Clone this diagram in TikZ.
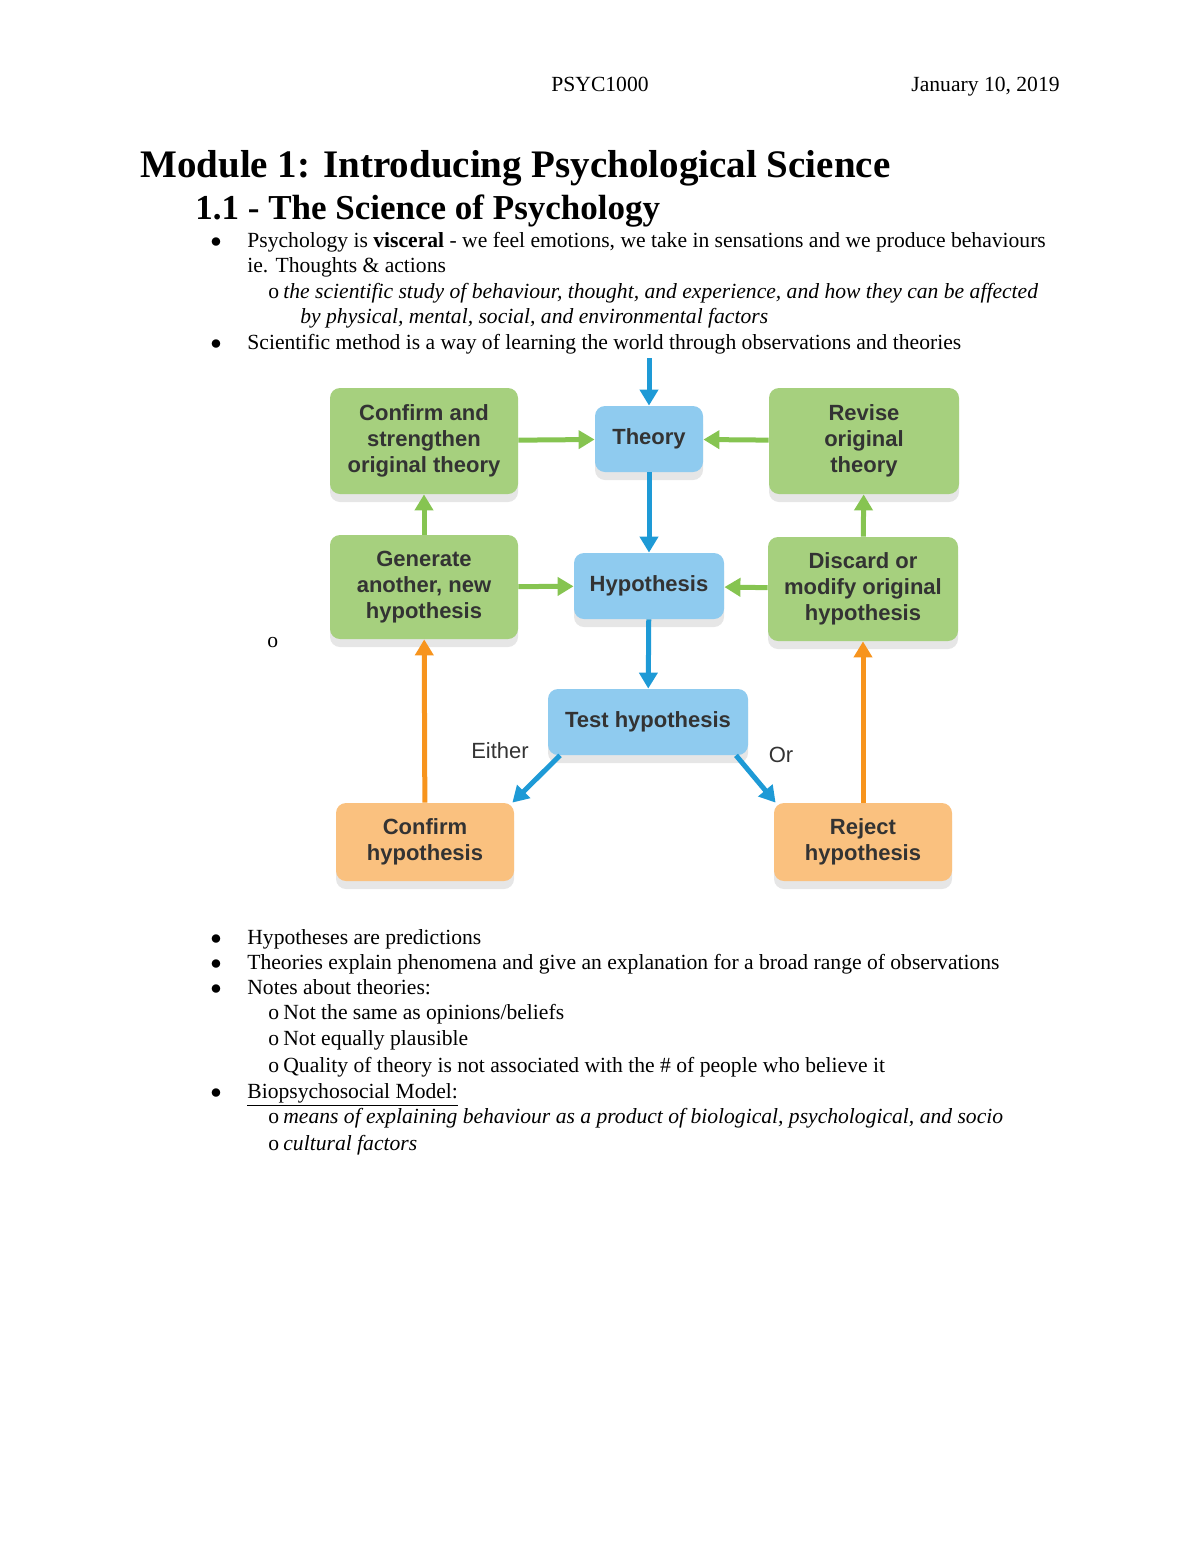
\documentclass[tikz,border=0pt]{standalone}
\usepackage{fontspec}
\setmainfont{Liberation Serif}
\newfontfamily\diafont{Liberation Sans}
\usetikzlibrary{positioning,shadows,arrows.meta}
\definecolor{boxgreen}{HTML}{A6D07E}
\definecolor{boxblue}{HTML}{8FCBEF}
\definecolor{boxorange}{HTML}{FAC17F}
\definecolor{arrgreen}{HTML}{86C451}
\definecolor{arrblue}{HTML}{1E9AD6}
\definecolor{arrorange}{HTML}{F7941D}
\definecolor{inkgray}{HTML}{333333}
\tikzset{
  % diagram boxes
  box/.style = {
    rounded corners = 5pt,
    align = center,
    font = \diafont\bfseries\fontsize{11}{13}\selectfont,
    text = inkgray,
    inner sep = 2pt,
    drop shadow = {shadow xshift = 0pt, shadow yshift = -4pt, opacity = .2}
  },
  gbox/.style = {box, fill = boxgreen},
  bbox/.style = {box, fill = boxblue},
  obox/.style = {box, fill = boxorange},
  garr/.style = {draw = arrgreen, line width = 2.5pt, -{Triangle[length=8pt,width=9pt]}},
  barr/.style = {draw = arrblue, line width = 2.5pt, -{Triangle[length=8pt,width=9pt]}},
  oarr/.style = {draw = arrorange, line width = 2.5pt, -{Triangle[length=8pt,width=9pt]}},
  % page text
  body/.style = {anchor = base west, inner sep = 0, font = \fontsize{10.8}{13}\selectfont},
  bul/.style = {anchor = base, inner sep = 0, font = \fontsize{10.8}{13}\selectfont}
}
\begin{document}
\begin{tikzpicture}[x=0.5pt, y=-0.5pt]
  \useasboundingbox (0,0) rectangle (1200,1553);

  % header and titles
  \node[bul] (course) at (600,91) {PSYC1000};
  \node[bul, anchor = base east] (date) at (1060,91) {January 10, 2019};
  \node[body, font = \bfseries\fontsize{19.5}{21}\selectfont] (title) at (140,177) {Module 1: Introducing Psychological Science};
  \node[body, font = \bfseries\fontsize{17.5}{19}\selectfont] (section) at (195,219) {1.1 - The Science of Psychology};

  % upper notes
  \foreach \y in {247,349} \node[bul] at (216,\y) {$\bullet$};
  \foreach \y in {298} \node[body] at (268,\y) {o};
  \node[body] (l1) at (247,247) {Psychology is \textbf{visceral} - we feel emotions, we take in sensations and we produce behaviours};
  \node[body] (l2) at (247,272) {ie. Thoughts \& actions};
  \node[body] (l3) at (283,298) {\itshape the scientific study of behaviour, thought, and experience, and how they can be affected};
  \node[body] (l4) at (300,323) {\itshape by physical, mental, social, and environmental factors};
  \node[body] (l5) at (247,349) {Scientific method is a way of learning the world through observations and theories};
  \node[body] (stray) at (267,647) {o};

  % diagram
  \node[bbox, minimum width = 54pt, minimum height = 33pt] (theory) at (649,439) {Theory};
  \node[gbox, minimum width = 94pt, minimum height = 53pt] (confirm-theory) at (424,441) {Confirm and\\strengthen\\original theory};
  \node[gbox, minimum width = 95pt, minimum height = 53pt] (revise) at (864,441) {Revise\\original\\theory};
  \node[bbox, minimum width = 75pt, minimum height = 33pt] (hypothesis) at (649,586) {Hypothesis};
  \node[gbox, minimum width = 94pt, minimum height = 52pt] (generate) at (424,587) {Generate\\another, new\\hypothesis};
  \node[gbox, minimum width = 95pt, minimum height = 52pt] (discard) at (863,589) {Discard or\\modify original\\hypothesis};
  \node[bbox, minimum width = 100pt, minimum height = 33pt] (test) at (648,722) {Test hypothesis};
  \node[obox, minimum width = 89pt, minimum height = 39pt] (confirm-hyp) at (425,842) {Confirm\\hypothesis};
  \node[obox, minimum width = 89pt, minimum height = 39pt] (reject) at (863,842) {Reject\\hypothesis};
  \coordinate (entry) at (649,358);
  \node[font = \diafont\fontsize{11}{13}\selectfont, text = inkgray] (either) at (500,751) {Either};
  \node[font = \diafont\fontsize{11}{13}\selectfont, text = inkgray] (or) at (781,755) {Or};

  \draw[barr] (entry) -- (theory);
  \draw[barr] (theory) -- (hypothesis);
  \draw[barr] (hypothesis) -- (test);
  \draw[barr] ([xshift=-44pt]test.south) -- ([xshift=-1pt]confirm-hyp.north east);
  \draw[barr] ([xshift=44pt]test.south) -- ([xshift=1pt]reject.north west);
  \draw[garr] (confirm-theory) -- (theory);
  \draw[garr] (revise) -- (theory);
  \draw[garr] (generate) -- (hypothesis);
  \draw[garr] (discard) -- (hypothesis);
  \draw[garr] (generate) -- (confirm-theory);
  \draw[garr] (discard) -- (revise);
  \draw[oarr] (confirm-hyp) -- (generate);
  \draw[oarr] (reject) -- (discard);

  % lower notes
  \foreach \y in {944,969,994,1098} \node[bul] at (216,\y) {$\bullet$};
  \foreach \y in {1019,1045,1072,1123,1150} \node[body] at (268,\y) {o};
  \node[body] (n1) at (247,944) {Hypotheses are predictions};
  \node[body] (n2) at (247,969) {Theories explain phenomena and give an explanation for a broad range of observations};
  \node[body] (n3) at (247,994) {Notes about theories:};
  \node[body] (n4) at (283,1019) {Not the same as opinions/beliefs};
  \node[body] (n5) at (283,1045) {Not equally plausible};
  \node[body] (n6) at (283,1072) {Quality of theory is not associated with the \# of people who believe it};
  \node[body] (n7) at (247,1098) {\underline{Biopsychosocial Model:}};
  \node[body] (n8) at (283,1123) {\itshape means of explaining behaviour as a product of biological, psychological, and socio};
  \node[body] (n9) at (283,1150) {\itshape cultural factors};
\end{tikzpicture}
\end{document}
